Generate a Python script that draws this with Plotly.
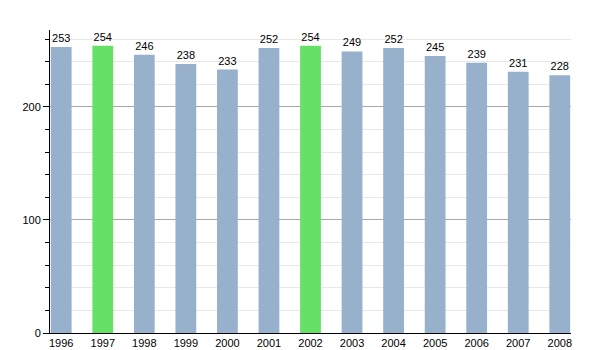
import plotly.graph_objects as go

years = ["1996", "1997", "1998", "1999", "2000", "2001", "2002", "2003", "2004", "2005", "2006", "2007", "2008"]
values = [253, 254, 246, 238, 233, 252, 254, 249, 252, 245, 239, 231, 228]
highlight = ["1997", "2002"]

blue = "#97b0cb"
green = "#66e066"
colors = [green if y in highlight else blue for y in years]

fig = go.Figure()
fig.add_trace(go.Bar(
    x=list(range(len(years))), y=values,
    marker=dict(color=colors, line=dict(width=0)),
    width=0.5,
    text=[str(v) for v in values], textposition="outside",
    textfont=dict(family="Liberation Sans, Arial", size=11, color="black"),
    cliponaxis=False,
))
fig.update_layout(
    width=600, height=350,
    margin=dict(l=50, r=29, t=30, b=17),
    plot_bgcolor="white", paper_bgcolor="white",
    showlegend=False,
    bargap=0.5,
    font=dict(family="Liberation Sans, Arial", size=11, color="black"),
)
fig.update_xaxes(
    tickmode="array", tickvals=list(range(len(years))), ticktext=years,
    range=[-0.27, 12.27], showgrid=False, showline=True, linecolor="black",
    linewidth=1, ticks="", tickfont=dict(size=11), automargin=False,
)
fig.update_yaxes(
    range=[0, 268], tickvals=[0, 100, 200], showline=True, linecolor="black",
    linewidth=1, ticks="outside", ticklen=6, tickcolor="black",
    gridcolor="#a8a8a8", gridwidth=1, zeroline=False, automargin=False,
    minor=dict(dtick=20, ticks="outside", ticklen=4, tickcolor="black",
               showgrid=True, gridcolor="#e8e8e8", gridwidth=1),
    tickfont=dict(size=11),
)
fig.write_html("out.html")
